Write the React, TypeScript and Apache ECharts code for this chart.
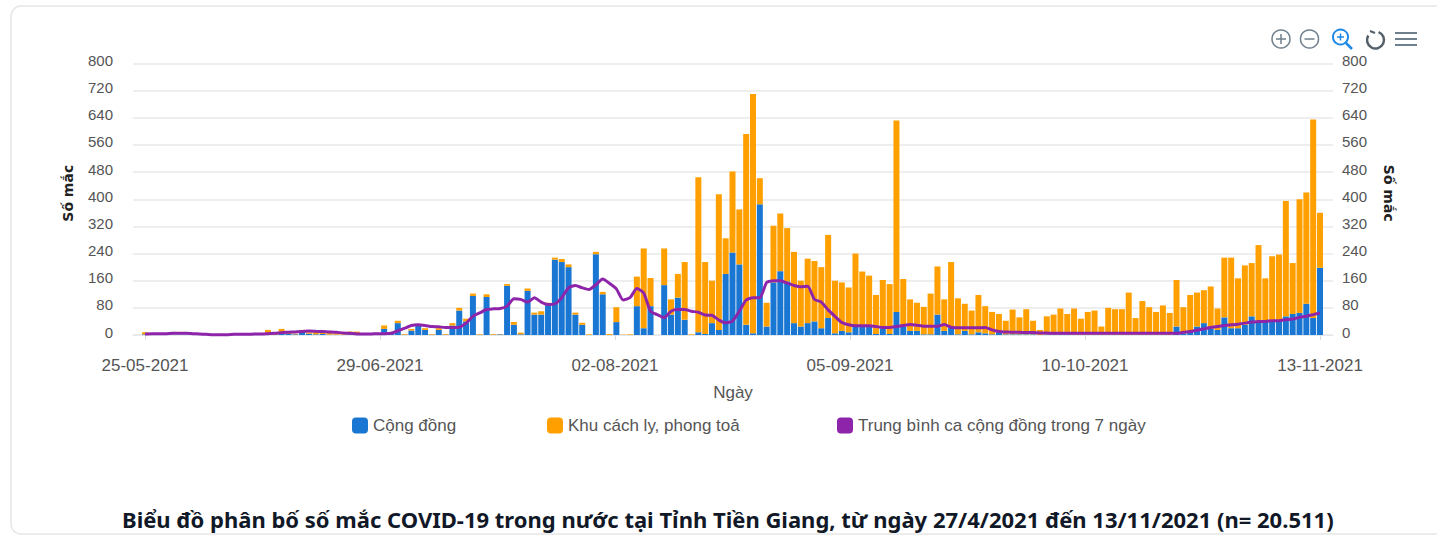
import React, { useEffect, useRef } from "react";
import * as echarts from "echarts";

const tickLabels = ["25-05-2021", "29-06-2021", "02-08-2021", "05-09-2021", "10-10-2021", "13-11-2021"];
const yTicksMax = 800;
const communityName = "Cộng đồng";
const quarantineName = "Khu cách ly, phong toả";
const averageName = "Trung bình ca cộng đồng trong 7 ngày";
const titleText = "Biểu đồ phân bố số mắc COVID-19 trong nước tại Tỉnh Tiền Giang, từ ngày 27/4/2021 đến 13/11/2021 (n= 20.511)";

const community = [
  2,1,1,1,1,1,1,0,0,0,
  0,0,0,0,0,1,0,1,2,1,
  5,3,2,10,4,2,3,1,1,0,
  2,2,1,1,0,18,3,35,1,13,
  28,15,1,15,1,28,72,40,115,1,
  112,1,2,145,30,2,130,60,60,88,
  222,215,200,60,30,0,238,120,0,38,
  0,0,85,20,85,0,147,60,110,45,
  0,8,3,35,15,180,243,208,30,5,
  385,25,155,188,158,35,25,35,40,20,
  50,5,12,8,25,25,25,3,20,3,
  68,25,12,12,2,2,60,12,25,2,
  12,2,8,5,2,8,2,2,2,2,
  2,0,2,2,2,2,1,1,1,1,
  1,1,1,1,1,1,1,1,1,1,
  1,25,5,10,25,35,18,15,52,20,
  20,30,55,42,42,42,45,55,62,65,
  92,50,198,
];
const quarantine = [
  6,1,1,1,0,0,0,1,0,0,
  0,1,0,1,2,1,2,3,13,4,
  13,5,2,5,4,8,5,6,4,2,
  8,8,3,2,2,10,3,7,2,5,
  4,5,2,5,2,7,8,8,7,2,
  8,2,1,5,8,5,7,6,10,7,
  6,9,8,6,6,2,7,7,3,44,
  1,2,87,235,83,0,108,45,70,170,
  2,457,212,125,400,105,239,162,562,705,
  77,70,167,170,157,210,135,190,178,180,
  245,155,143,132,215,162,150,115,142,147,
  564,140,93,83,81,120,142,93,190,106,
  80,70,110,80,66,54,40,73,50,74,
  40,15,53,58,76,60,77,47,67,71,
  24,79,75,75,124,49,99,81,67,86,
  64,137,77,108,100,97,125,63,176,208,
  147,175,157,223,125,190,192,340,150,335,
  328,585,162,
];
const average = [
  3,4,4,4,5,5,5,4,3,2,
  1,1,1,2,2,2,3,3,4,5,
  7,8,9,10,12,11,10,9,8,6,
  5,3,3,3,4,4,5,12,20,28,
  30,28,25,24,22,22,23,35,55,65,
  75,77,78,85,107,105,97,110,97,90,
  92,110,139,146,139,134,148,165,152,136,
  103,110,137,124,70,60,51,70,75,75,
  70,67,59,58,44,36,41,70,103,110,
  110,155,160,160,153,146,142,144,105,97,
  74,55,37,30,27,27,27,25,22,22,
  25,28,31,29,26,26,26,31,23,21,
  21,21,21,22,15,10,9,8,8,7,
  7,6,6,5,5,5,5,5,5,5,
  5,5,5,5,5,5,5,5,5,5,
  5,5,8,10,14,18,22,25,28,30,
  32,35,38,40,40,42,42,45,47,52,
  55,60,65,
];

const DAY = 86400000;
const START = Date.UTC(2021, 4, 25);
const dayCategories = community.map((_, i) => new Date(START + i * DAY).toISOString().slice(0, 10));
const AXIS_MIN = -1.76;
const AXIS_MAX = 173.9;
const tickPositions = tickLabels.map((_, i) => i * 34.4);

const BLUE = "#1976D2";
const ORANGE = "#FFA000";
const PURPLE = "#8E24AA";
const GRAY = "#6E7F8D";
const LABEL = "#555555";
const FONT = "'Liberation Sans', Arial, sans-serif";

export default function App() {
  const ref = useRef<HTMLDivElement | null>(null);
  useEffect(() => {
    const chart = echarts.init(ref.current!, undefined, { renderer: "svg" });
    const legendBase = {
      orient: "horizontal",
      icon: "roundRect",
      itemWidth: 16,
      itemHeight: 16,
      itemGap: 0,
      textStyle: { fontFamily: FONT, fontSize: 17, color: LABEL },
      padding: 0,
    };
    const yAxisBase = {
      type: "value",
      min: 0,
      max: yTicksMax,
      interval: 80,
      axisLine: { show: false },
      axisTick: { show: false },
      nameLocation: "middle",
    };
    const nameStyle = { fontFamily: "'DejaVu Sans', sans-serif", fontSize: 14, fontWeight: "bold", color: "#222" };
    const yLabel = { fontFamily: FONT, fontSize: 15, color: LABEL, verticalAlign: "bottom", lineHeight: 6 };
    chart.setOption({
      animation: false,
      title: {
        text: titleText,
        left: 122,
        top: 508,
        padding: 0,
        textStyle: { fontFamily: "'Noto Sans', sans-serif", fontSize: 22, fontWeight: "bold", color: "#111827" },
      },
      legend: [
        { ...legendBase, left: 352, top: 417, data: [communityName] },
        { ...legendBase, left: 547, top: 417, data: [quarantineName] },
        { ...legendBase, left: 837, top: 417, data: [{ name: averageName, icon: "roundRect" }] },
      ],
      grid: [
        { left: 133, right: 104, top: 63.5, height: 271.5 },
        { left: 145, right: 117, top: 63.5, height: 271.5 },
      ],
      xAxis: [
        {
          type: "value",
          gridIndex: 0,
          position: "bottom",
          min: AXIS_MIN,
          max: AXIS_MAX,
          name: "Ngày",
          nameLocation: "middle",
          nameGap: 49,
          nameTextStyle: { fontFamily: FONT, fontSize: 17, color: LABEL },
          splitLine: { show: false },
          axisLine: { show: true, onZero: false, lineStyle: { color: "#E3E8EE" } },
          axisTick: { show: true, length: 5, customValues: tickPositions, lineStyle: { color: "#D5DCE4" } },
          axisLabel: {
            customValues: tickPositions,
            formatter: (value: number) => {
              const i = tickPositions.findIndex((t) => Math.abs(t - value) < 0.5);
              return i >= 0 ? tickLabels[i] : "";
            },
            fontFamily: FONT,
            fontSize: 17,
            color: LABEL,
            margin: 22,
          },
        },
        {
          type: "category",
          gridIndex: 1,
          boundaryGap: false,
          data: dayCategories,
          axisLine: { show: false },
          axisTick: { show: false },
          axisLabel: { show: false },
          splitLine: { show: false },
        },
      ],
      yAxis: [
        {
          ...yAxisBase,
          gridIndex: 0,
          name: "Số mắc",
          nameGap: 58,
          nameTextStyle: { ...nameStyle, padding: [0, 0, 0, 12] },
          position: "left",
          splitLine: { show: true, lineStyle: { color: "#E9E9E9", width: 1.5 } },
          axisLabel: { ...yLabel, margin: 20 },
        },
        {
          ...yAxisBase,
          gridIndex: 0,
          name: "Số mắc",
          nameGap: 49,
          nameRotate: -90,
          nameTextStyle: { ...nameStyle, padding: [0, 12, 0, 0] },
          position: "right",
          splitLine: { show: false },
          axisLabel: { ...yLabel, margin: 9 },
        },
        {
          type: "value",
          gridIndex: 1,
          min: 0,
          max: yTicksMax,
          interval: 80,
          axisLine: { show: false },
          axisTick: { show: false },
          axisLabel: { show: false },
          splitLine: { show: false },
        },
      ],
      series: [
        { name: communityName, type: "bar", stack: "cases", xAxisIndex: 1, yAxisIndex: 2, clip: false, barWidth: 6, data: community, itemStyle: { color: BLUE } },
        { name: quarantineName, type: "bar", stack: "cases", xAxisIndex: 1, yAxisIndex: 2, clip: false, barWidth: 6, data: quarantine, itemStyle: { color: ORANGE } },
        {
          name: averageName,
          type: "line",
          xAxisIndex: 1,
          yAxisIndex: 2,
          clip: false,
          data: average,
          showSymbol: false,
          symbol: "none",
          smooth: 0.2,
          z: 5,
          lineStyle: { color: PURPLE, width: 3 },
          itemStyle: { color: PURPLE },
        },
      ],
      graphic: [
        { type: "rect", shape: { x: 11, y: 6, width: 1480, height: 528, r: 10 }, style: { fill: "none", stroke: "#E6E6E6", lineWidth: 1.5 }, silent: true, z: -10 },
        { type: "circle", shape: { cx: 1281, cy: 39, r: 9 }, style: { fill: "none", stroke: GRAY, lineWidth: 1.5 } },
        { type: "line", shape: { x1: 1276, y1: 39, x2: 1286, y2: 39 }, style: { stroke: GRAY, lineWidth: 1.5 } },
        { type: "line", shape: { x1: 1281, y1: 34, x2: 1281, y2: 44 }, style: { stroke: GRAY, lineWidth: 1.5 } },
        { type: "circle", shape: { cx: 1309.5, cy: 39, r: 9 }, style: { fill: "none", stroke: GRAY, lineWidth: 1.5 } },
        { type: "line", shape: { x1: 1304.5, y1: 39, x2: 1314.5, y2: 39 }, style: { stroke: GRAY, lineWidth: 1.5 } },
        { type: "circle", shape: { cx: 1340.5, cy: 37, r: 7.5 }, style: { fill: "none", stroke: "#1E88E5", lineWidth: 2 } },
        { type: "line", shape: { x1: 1337, y1: 37, x2: 1344, y2: 37 }, style: { stroke: "#1E88E5", lineWidth: 1.5 } },
        { type: "line", shape: { x1: 1340.5, y1: 33.5, x2: 1340.5, y2: 40.5 }, style: { stroke: "#1E88E5", lineWidth: 1.5 } },
        { type: "line", shape: { x1: 1346, y1: 43, x2: 1352, y2: 49 }, style: { stroke: "#1E88E5", lineWidth: 2.5 } },
        { type: "arc", shape: { cx: 1375.5, cy: 40, r: 8.5, startAngle: -1.2, endAngle: 3.7 }, style: { fill: "none", stroke: "#55606A", lineWidth: 2.5 } },
        { type: "line", shape: { x1: 1370, y1: 31, x2: 1375, y2: 33 }, style: { stroke: "#55606A", lineWidth: 2 } },
        { type: "line", shape: { x1: 1395, y1: 33, x2: 1417, y2: 33 }, style: { stroke: GRAY, lineWidth: 2 } },
        { type: "line", shape: { x1: 1395, y1: 39, x2: 1417, y2: 39 }, style: { stroke: GRAY, lineWidth: 2 } },
        { type: "line", shape: { x1: 1395, y1: 45, x2: 1417, y2: 45 }, style: { stroke: GRAY, lineWidth: 2 } },
      ],
    });
    return () => chart.dispose();
  }, []);
  return (
    <div
      ref={ref}
      style={{ position: "fixed", left: 0, top: 0, width: 1437, height: 535, background: "#fff", overflow: "hidden" }}
    />
  );
}
